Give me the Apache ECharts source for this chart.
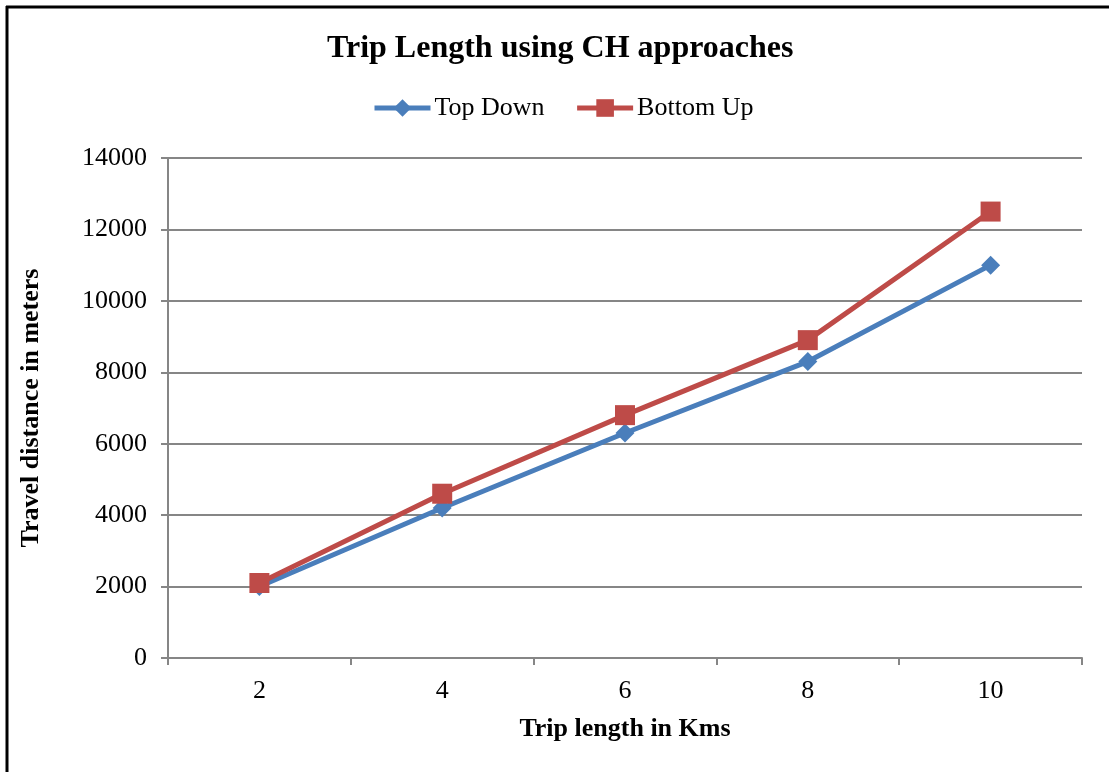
<!DOCTYPE html>
<html>
<head>
<meta charset="utf-8">
<script src="https://cdn.jsdelivr.net/npm/echarts@6/dist/echarts.min.js"></script>
<style>
  html, body { margin: 0; padding: 0; background: #fff; }
  #chart { width: 1109px; height: 772px; }
</style>
</head>
<body>
<div id="chart"></div>
<script>
// Trip length (km) on the x axis
const tripLengths = ['2', '4', '6', '8', '10'];
// Travel distance (m) for each contraction-hierarchy approach
const topDown = [2000, 4200, 6300, 8300, 11000];
const bottomUp = [2100, 4600, 6800, 8900, 12500];
const seriesNames = ['Top Down', 'Bottom Up'];

const serif = '"Liberation Serif", "Times New Roman", serif';
const gridGray = '#868686';

const chart = echarts.init(document.getElementById('chart'));
chart.setOption({
  animation: false,
  backgroundColor: '#fff',
  textStyle: { fontFamily: serif, color: '#000' },
  title: {
    text: 'Trip Length using CH approaches',
    left: 322,
    top: 28,
    textStyle: { fontFamily: serif, fontSize: 32, fontWeight: 'bold', color: '#000' }
  },
  legend: {
    data: seriesNames,
    top: 90,
    left: 367,
    itemWidth: 56,
    itemHeight: 22,
    itemGap: 30,
    lineStyle: { width: 5 },
    textStyle: { fontFamily: serif, fontSize: 26, color: '#000', padding: [0, 0, 0, -1] }
  },
  grid: { left: 168, right: 27, top: 158, bottom: 114 },
  xAxis: {
    type: 'category',
    data: tripLengths,
    boundaryGap: true,
    name: 'Trip length in Kms',
    nameLocation: 'middle',
    nameGap: 58,
    nameTextStyle: { fontFamily: serif, fontSize: 26, fontWeight: 'bold', color: '#000' },
    axisLine: { lineStyle: { color: gridGray, width: 2 } },
    axisTick: { show: true, length: 7, lineStyle: { color: gridGray, width: 2 } },
    axisLabel: { fontFamily: serif, fontSize: 26, color: '#000', margin: 20 },
    splitLine: { show: false }
  },
  yAxis: {
    type: 'value',
    min: 0,
    max: 14000,
    interval: 2000,
    name: 'Travel distance in meters',
    nameLocation: 'middle',
    nameGap: 124,
    nameTextStyle: { fontFamily: serif, fontSize: 26, fontWeight: 'bold', color: '#000' },
    axisLine: { show: true, lineStyle: { color: gridGray, width: 2 } },
    axisTick: { show: true, length: 7, lineStyle: { color: gridGray, width: 2 } },
    axisLabel: {
      fontFamily: serif, fontSize: 26, color: '#000', margin: 21,
      formatter: v => String(v)
    },
    splitLine: { show: true, lineStyle: { color: gridGray, width: 2 } }
  },
  series: [
    {
      name: seriesNames[0],
      type: 'line',
      data: topDown,
      symbol: 'diamond',
      symbolSize: 19,
      color: '#4a7ebb',
      lineStyle: { width: 5, color: '#4a7ebb' },
      itemStyle: { color: '#4a7ebb' },
      z: 2
    },
    {
      name: seriesNames[1],
      type: 'line',
      data: bottomUp,
      symbol: 'rect',
      symbolSize: 20,
      color: '#be4b48',
      lineStyle: { width: 5, color: '#be4b48' },
      itemStyle: { color: '#be4b48' },
      z: 3
    }
  ],
  graphic: [
    // frame edges along the top and left
    { type: 'line', shape: { x1: 6, y1: 7, x2: 1109, y2: 7 }, style: { stroke: '#000', lineWidth: 3 }, z: 10 },
    { type: 'line', shape: { x1: 7, y1: 6, x2: 7, y2: 772 }, style: { stroke: '#000', lineWidth: 3 }, z: 10 }
  ]
});
</script>
</body>
</html>
